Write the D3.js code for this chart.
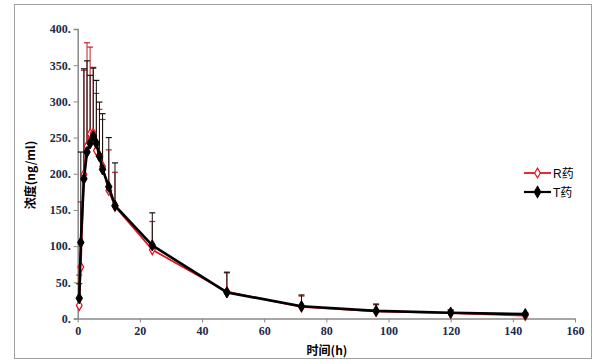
<!DOCTYPE html>
<html><head><meta charset="utf-8">
<script src="https://cdn.jsdelivr.net/npm/d3@7/dist/d3.min.js"></script>
<style>body{margin:0;background:#fff;}svg{display:block;}</style>
</head><body>
<script>
const times = [0.5, 1, 2, 3, 4, 5, 6, 7, 8, 10, 12, 24, 48, 72, 96, 120, 144];
const tMean = [28, 105, 193, 230, 242, 252, 242, 224, 206, 182, 156, 101, 36, 17, 10.5, 8, 6];
const tSD   = [20, 125, 152, 126, 94, 94, 87, 75, 77, 68, 59, 45, 28, 15.5, 9.5, 4, 2];
const rMean = [18, 71, 199, 238, 255, 256, 232, 225, 210, 177, 155, 95, 37, 16, 10, 7.5, 4];
const rSD   = [42, 90, 144, 143, 120, 91, 79, 64, 65, 56, 47, 39, 26, 15, 9, 3.5, 2];
const xTicks = [0, 20, 40, 60, 80, 100, 120, 140, 160];
const yTicks = [0, 50, 100, 150, 200, 250, 300, 350, 400];
const seriesNames = ["R药", "T药"];
const xTitle = "时间(h)";
const yTitle = "浓度(ng/ml)";

const W = 601, H = 364;
const svg = d3.select("body").append("svg").attr("width", W).attr("height", H);
svg.append("rect").attr("x", 14.5).attr("y", 4.5).attr("width", 577).attr("height", 354)
  .attr("fill", "#fff").attr("stroke", "#a0a0a0").attr("stroke-width", 1);

const x = d3.scaleLinear().domain([0, 160]).range([77.7, 575]);
const y = d3.scaleLinear().domain([0, 400]).range([318.5, 29]);

const labelColor = "#1c2a48";
// Y axis
const ya = svg.append("g").attr("transform", `translate(${x(0)},0)`)
  .call(d3.axisLeft(y).tickValues(yTicks).tickSize(4).tickFormat(d => d + "."));
ya.select(".domain").attr("stroke", "#888").attr("stroke-width", 1.5);
ya.selectAll(".tick line").attr("stroke", "#888");
ya.selectAll(".tick text").style("font-family", "'Liberation Serif', serif").style("font-weight", "bold")
  .style("font-size", "12px").attr("fill", labelColor).attr("x", -7);
// X axis
const xa = svg.append("g").attr("transform", `translate(0,${y(0)})`)
  .call(d3.axisBottom(x).tickValues(xTicks).tickSize(4).tickSizeOuter(0));
xa.select(".domain").attr("stroke", "#888").attr("stroke-width", 1.5);
xa.selectAll(".tick line").attr("stroke", "#888");
xa.selectAll(".tick text").style("font-family", "'Liberation Serif', serif").style("font-weight", "bold")
  .style("font-size", "12px").attr("fill", labelColor).attr("y", 8);

// titles
svg.append("text").attr("x", 327).attr("y", 355).attr("text-anchor", "middle")
  .style("font-family", "'Noto Sans CJK SC', serif").style("font-weight", "bold")
  .style("font-size", "12px").attr("fill", "#000").text(xTitle);
svg.append("text").attr("transform", "translate(35,175) rotate(-90)").attr("text-anchor", "middle")
  .style("font-family", "'Noto Sans CJK SC', serif").style("font-weight", "bold")
  .style("font-size", "12px").attr("fill", "#000").text(yTitle);

const series = [
  {name: seriesNames[0], mean: rMean, sd: rSD, color: "#e0141e", bar: "#c0202a", filled: false, lw: 1.8},
  {name: seriesNames[1], mean: tMean, sd: tSD, color: "#000", bar: "#111", filled: true, lw: 2.6}
];

// error bars
series.forEach(s => {
  const g = svg.append("g");
  times.forEach((t, i) => {
    const cx = x(t), y0 = y(s.mean[i]), y1 = y(s.mean[i] + s.sd[i]);
    g.append("line").attr("x1", cx).attr("x2", cx).attr("y1", y0).attr("y2", y1)
      .attr("stroke", s.bar).attr("stroke-width", 1);
    g.append("line").attr("x1", cx - 3).attr("x2", cx + 3).attr("y1", y1).attr("y2", y1)
      .attr("stroke", s.bar).attr("stroke-width", 1.2);
  });
});

const diamond = d3.symbol().type(d3.symbolDiamond);
series.forEach(s => {
  const pts = times.map((t, i) => [x(t), y(s.mean[i])]);
  svg.append("path").attr("d", d3.line()(pts)).attr("fill", "none")
    .attr("stroke", s.color).attr("stroke-width", s.lw).attr("stroke-linejoin", "round");
  svg.append("g").selectAll("path").data(pts).join("path")
    .attr("transform", d => `translate(${d[0]},${d[1]})`)
    .attr("d", diamond.size(s.filled ? 36 : 28)())
    .attr("fill", s.filled ? s.color : "#fff")
    .attr("stroke", s.color).attr("stroke-width", s.filled ? 1 : 1.3);
});

// legend
series.forEach((s, i) => {
  const ly = 173 + i * 19;
  const g = svg.append("g");
  g.append("line").attr("x1", 524).attr("x2", 551).attr("y1", ly).attr("y2", ly)
    .attr("stroke", s.color).attr("stroke-width", s.filled ? 2.2 : 1.8);
  g.append("path").attr("transform", `translate(537.5,${ly})`)
    .attr("d", diamond.size(s.filled ? 36 : 28)())
    .attr("fill", s.filled ? s.color : "#fff").attr("stroke", s.color).attr("stroke-width", 1.2);
  g.append("text").attr("x", 553).attr("y", ly + 4.5).style("font-family", "'Liberation Sans', 'Noto Sans CJK SC', sans-serif")
    .style("font-size", "12px").attr("fill", "#000").text(s.name);
});
</script>
</body></html>
